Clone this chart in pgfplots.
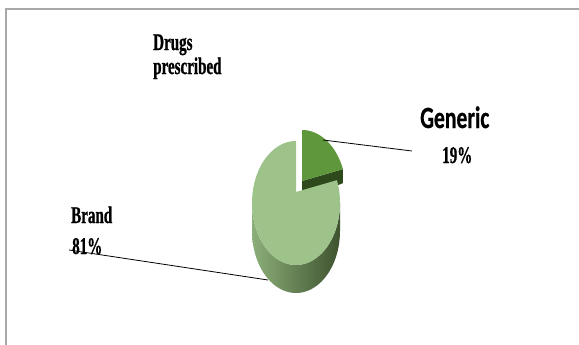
\documentclass[border=0pt]{standalone}
\usepackage{pgfplots}
\pgfplotsset{compat=1.18}
\usepackage{pgfplotstable}
\usepackage{fontspec}
\setmainfont{Liberation Serif}
\newfontfamily\lblfont{Liberation Serif}[UprightFont=* Bold, FakeStretch=0.63, FakeBold=0.8]
\newfontfamily\headfont{Carlito}[UprightFont=* Bold, FakeStretch=0.7, FakeBold=0.6]

\definecolor{brandtop}{HTML}{9DC38B}
\definecolor{genertop}{HTML}{5E973C}
\definecolor{genercut}{HTML}{2E4A1D}
\definecolor{sideL}{HTML}{8CAF79}
\definecolor{sideM}{HTML}{6D8B59}
\definecolor{sideR}{HTML}{3E522F}
\definecolor{frame}{HTML}{A8A8A8}

% share of prescriptions, in percent
\pgfplotstableread{
label   share
Brand   81
Generic 19
}\piedata

\begin{document}
\begin{tikzpicture}
\useasboundingbox (0,0) rectangle (579bp,345bp);
\fill[white] (0,0) rectangle (579bp,345bp);
\pgfplotstablegetelem{1}{share}\of\piedata
\pgfmathsetmacro{\gshare}{\pgfplotsretval}
% slice boundary: generic runs clockwise from 12 o'clock
\pgfmathsetmacro{\aend}{90-3.6*\gshare}
\pgfmathsetmacro{\astart}{90-360}
\begin{axis}[
  scale only axis, width=579bp, height=345bp,
  xmin=0, xmax=579, ymin=0, ymax=345, y dir=reverse,
  hide axis, clip=false,
]
% frame
\draw[frame, line width=1.3bp] (axis cs:6,345) -- (axis cs:6,9) -- (axis cs:579,9);

% ellipse geometry of the pie (centre 296,203; radii 44,62; depth 28)
% side wall of the large slice
\addplot[draw=none, left color=sideL, middle color=sideM, right color=sideR,
  domain=0:3, samples=151, variable=\t]
  ({296+44*cos(180+180*min(\t,1)-180*max(\t-2,0))},
   {203-62*sin(180+180*min(\t,1)-180*max(\t-2,0))+28*min(max(\t-1,0),1)}) -- cycle;

% generic slice, pulled out: cut face then top
\addplot[draw=none, fill=genercut] coordinates
  {(302,181) ({302+44*cos(\aend)},{192-62*sin(\aend)})
   ({302+44*cos(\aend)},{206-62*sin(\aend)}) (302,199)} -- cycle;
\addplot[draw=none, fill=genertop, domain=\aend:90, samples=60]
  ({302+44*cos(x)},{192-62*sin(x)}) -- (axis cs:302,181) -- cycle;

% brand slice top
\addplot[draw=none, fill=brandtop, domain=\astart:\aend, samples=150]
  ({296+44*cos(x)},{203-62*sin(x)}) -- (axis cs:296,192) -- cycle;

% leader lines
\addplot[black, line width=0.8bp] coordinates {(323,140) (412,151)};
\addplot[black, line width=0.8bp] coordinates {(69,250) (268,280)};

% labels
\node[anchor=base west, inner sep=0pt] at (axis cs:153,50)
  {\lblfont\fontsize{24}{24}\selectfont Drugs};
\node[anchor=base west, inner sep=0pt] at (axis cs:153,74)
  {\lblfont\fontsize{24}{24}\selectfont prescribed};
\node[anchor=base west, inner sep=0pt] at (axis cs:420,128)
  {\headfont\fontsize{31}{32}\selectfont Generic};
\node[anchor=base west, inner sep=0pt] at (axis cs:442,163)
  {\lblfont\fontsize{24}{24}\selectfont 19\%};
\node[anchor=base west, inner sep=0pt] at (axis cs:71,223)
  {\lblfont\fontsize{24}{24}\selectfont Brand};
\node[anchor=base west, inner sep=0pt] at (axis cs:72,254)
  {\lblfont\fontsize{24}{24}\selectfont 81\%};
\end{axis}
\end{tikzpicture}
\end{document}
